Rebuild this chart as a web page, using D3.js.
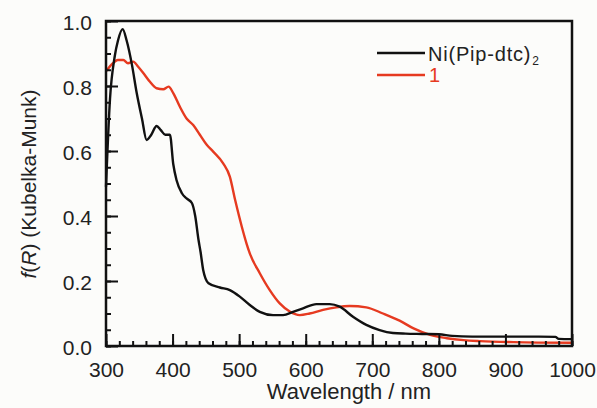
<!DOCTYPE html>
<html>
<head>
<meta charset="utf-8">
<script src="https://cdn.jsdelivr.net/npm/d3@7"></script>
<style>
  body { margin: 0; background: #fcfcfa; }
  svg { display: block; background: #fcfcfa; }
  text { font-family: "Liberation Sans", Arial, sans-serif; fill: #222; }
</style>
</head>
<body>
<div id="chart"></div>
<script>
// Ni(Pip-dtc)2 spectrum (black)
var niWl = [300, 306, 313, 318, 325, 331, 339, 346, 354, 361, 368, 376, 382, 389, 396, 401, 406, 414, 421, 429, 434, 439, 442, 446, 454, 471, 486, 501, 516, 531, 551, 566, 581, 596, 616, 636, 651, 671, 691, 711, 731, 750, 775, 800, 820, 850, 900, 950, 975, 980, 1000];
var niFr = [0.49, 0.76, 0.89, 0.94, 0.975, 0.94, 0.865, 0.78, 0.70, 0.634, 0.65, 0.677, 0.665, 0.65, 0.65, 0.56, 0.51, 0.47, 0.454, 0.44, 0.40, 0.326, 0.29, 0.234, 0.193, 0.18, 0.172, 0.152, 0.126, 0.105, 0.095, 0.095, 0.105, 0.116, 0.129, 0.129, 0.121, 0.09, 0.065, 0.049, 0.040, 0.038, 0.037, 0.036, 0.031, 0.029, 0.029, 0.029, 0.028, 0.022, 0.021];

// compound 1 spectrum (red)
var oneWl = [300, 308, 318, 326, 333, 341, 348, 356, 366, 376, 386, 394, 401, 411, 421, 431, 441, 451, 461, 476, 486, 494, 504, 511, 516, 531, 546, 561, 576, 591, 606, 626, 646, 666, 691, 716, 741, 762, 787, 812, 837, 862, 912, 1000];
var oneFr = [0.845, 0.865, 0.88, 0.88, 0.87, 0.875, 0.86, 0.84, 0.813, 0.793, 0.79, 0.798, 0.778, 0.736, 0.70, 0.68, 0.65, 0.62, 0.598, 0.562, 0.521, 0.449, 0.367, 0.316, 0.285, 0.224, 0.172, 0.131, 0.106, 0.095, 0.100, 0.111, 0.119, 0.123, 0.119, 0.100, 0.078, 0.054, 0.034, 0.024, 0.018, 0.015, 0.012, 0.010];

var xTicks = [300, 400, 500, 600, 700, 800, 900, 1000];
var yTicks = [0.0, 0.2, 0.4, 0.6, 0.8, 1.0];
var xMinor = d3.range(300, 1001, 20);
var yMinor = d3.range(0, 21).map(i => i * 0.05);

var svgWidth = 597;
var svgHeight = 408;

var margin = { top: 21, right: 25, bottom: 62, left: 106 };
var plotW = svgWidth - margin.left - margin.right;
var plotH = svgHeight - margin.top - margin.bottom;

var svg = d3.select("#chart")
  .append("svg")
  .attr("width", svgWidth)
  .attr("height", svgHeight);

var chartGroup = svg.append("g")
  .attr("transform", `translate(${margin.left}, ${margin.top})`);

var xScale = d3.scaleLinear().domain([300, 1000]).range([0, plotW]);
var yScale = d3.scaleLinear().domain([0, 1]).range([plotH, 0]);

// curves
var lineGen = d3.line()
  .x(d => xScale(d[0]))
  .y(d => yScale(d[1]))
  .curve(d3.curveMonotoneX);

var curves = [
  { wl: oneWl, fr: oneFr, color: "#e63a20" },
  { wl: niWl, fr: niFr, color: "#111" }
];

curves.forEach(c => {
  chartGroup.append("path")
    .datum(d3.zip(c.wl, c.fr))
    .attr("fill", "none")
    .attr("stroke", c.color)
    .attr("stroke-width", 2.4)
    .attr("stroke-linejoin", "round")
    .attr("d", lineGen);
});

// tick labels
var xAxis = chartGroup.append("g")
  .attr("transform", `translate(0, ${plotH})`)
  .call(d3.axisBottom(xScale).tickValues(xTicks).tickSize(0).tickFormat(d3.format("d")))
  .call(g => g.select(".domain").remove());
xAxis.selectAll("text").attr("font-size", 21).attr("y", 31).attr("dy", null);

var yAxis = chartGroup.append("g")
  .call(d3.axisLeft(yScale).tickValues(yTicks).tickSize(0).tickPadding(14).tickFormat(d3.format(".1f")))
  .call(g => g.select(".domain").remove());
yAxis.selectAll("text").attr("font-size", 21).attr("dy", "0.4em");

// frame
chartGroup.append("rect")
  .attr("width", plotW)
  .attr("height", plotH)
  .attr("fill", "none")
  .attr("stroke", "#111")
  .attr("stroke-width", 2.5);

// axis titles
svg.append("text")
  .attr("x", 349)
  .attr("y", 399)
  .attr("text-anchor", "middle")
  .attr("font-size", 22)
  .text("Wavelength / nm");

var yTitle = svg.append("text")
  .attr("transform", "translate(36, 184) rotate(-90)")
  .attr("text-anchor", "middle")
  .attr("font-size", 21);
yTitle.append("tspan").attr("font-style", "italic").text("f");
yTitle.append("tspan").text("(");
yTitle.append("tspan").attr("font-style", "italic").text("R");
yTitle.append("tspan").text(") (Kubelka-Munk)");

// legend
var legend = svg.append("g");
legend.append("line").attr("x1", 377).attr("x2", 425).attr("y1", 53).attr("y2", 53)
  .attr("stroke", "#111").attr("stroke-width", 2.4);
legend.append("line").attr("x1", 377).attr("x2", 425).attr("y1", 75).attr("y2", 75)
  .attr("stroke", "#e63a20").attr("stroke-width", 2.4);

var niLabel = legend.append("text")
  .attr("x", 428).attr("y", 61)
  .attr("font-size", 20)
  .attr("letter-spacing", 0.8);
niLabel.append("tspan").text("Ni(Pip-dtc)");
niLabel.append("tspan").attr("font-size", 12).attr("dx", 1).attr("dy", 4).text("2");

legend.append("text")
  .attr("x", 429).attr("y", 82)
  .attr("font-size", 20)
  .style("fill", "#e63a20")
  .text("1");

// inward tick marks, drawn last with d3 axes in their own group
var tickLayer = svg.append("g")
  .attr("transform", `translate(${margin.left}, ${margin.top})`);

var styleTicks = g => g.call(s => s.select(".domain").remove())
  .call(s => s.selectAll(".tick line").attr("stroke", "#111").attr("stroke-width", 2));

tickLayer.append("g")
  .attr("transform", `translate(0, ${plotH})`)
  .call(d3.axisBottom(xScale).tickValues(xMinor).tickSize(-5).tickFormat(() => ""))
  .call(styleTicks);

tickLayer.append("g")
  .attr("transform", `translate(0, ${plotH})`)
  .call(d3.axisBottom(xScale).tickValues(xTicks).tickSize(-12).tickFormat(() => ""))
  .call(styleTicks);

tickLayer.append("g")
  .call(d3.axisLeft(yScale).tickValues(yMinor).tickSize(-5).tickFormat(() => ""))
  .call(styleTicks);

tickLayer.append("g")
  .call(d3.axisLeft(yScale).tickValues(yTicks).tickSize(-12).tickFormat(() => ""))
  .call(styleTicks);
</script>
</body>
</html>
